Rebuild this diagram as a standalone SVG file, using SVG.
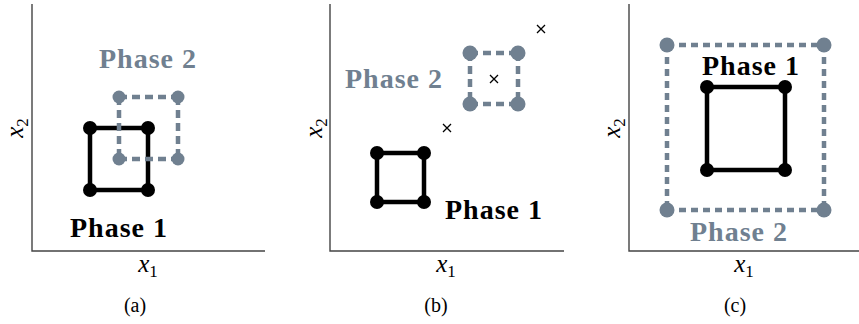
<svg xmlns="http://www.w3.org/2000/svg" width="859" height="324" viewBox="0 0 859 324">
<g id="panel-a">
<path d="M32,4 V251 H265" fill="none" stroke="#444" stroke-width="1.4"/>
<g id="a-phase1">
<rect x="90" y="128" width="58" height="62" fill="none" stroke="#000" stroke-width="4.5"/>
<circle cx="90" cy="128" r="7" fill="#000"/><circle cx="148" cy="128" r="7" fill="#000"/>
<circle cx="90" cy="190" r="7" fill="#000"/><circle cx="148" cy="190" r="7" fill="#000"/>
</g>
<g id="a-phase2">
<path d="M119,97 H178 M119,97 V159 M178,97 V159 M119,159 H178" fill="none" stroke="#708090" stroke-width="4.5" stroke-dasharray="8 5"/>
<circle cx="119" cy="97" r="6.5" fill="#708090"/><circle cx="178" cy="97" r="6.5" fill="#708090"/>
<circle cx="119" cy="159" r="6.5" fill="#708090"/><circle cx="178" cy="159" r="6.5" fill="#708090"/>
</g>
</g>
<g id="panel-b">
<path d="M330,4 V251 H564" fill="none" stroke="#444" stroke-width="1.4"/>
<g id="b-phase1">
<rect x="377" y="153" width="47" height="49" fill="none" stroke="#000" stroke-width="4.5"/>
<circle cx="377" cy="153" r="7" fill="#000"/><circle cx="424" cy="153" r="7" fill="#000"/>
<circle cx="377" cy="202" r="7" fill="#000"/><circle cx="424" cy="202" r="7" fill="#000"/>
</g>
<g id="b-phase2">
<path d="M470,53 H518 M470,53 V104 M518,53 V104 M470,104 H518" fill="none" stroke="#708090" stroke-width="4.5" stroke-dasharray="8 5"/>
<circle cx="470" cy="53" r="7.5" fill="#708090"/><circle cx="518" cy="53" r="7.5" fill="#708090"/>
<circle cx="470" cy="104" r="7.5" fill="#708090"/><circle cx="518" cy="104" r="7.5" fill="#708090"/>
</g>
<g id="b-crosses" stroke="#000" stroke-width="1.3">
<path d="M537,25 l8,8 M545,25 l-8,8"/>
<path d="M490,75 l8,8 M498,75 l-8,8"/>
<path d="M443,124 l8,8 M451,124 l-8,8"/>
</g>
</g>
<g id="panel-c">
<path d="M629,4 V251 H859" fill="none" stroke="#444" stroke-width="1.4"/>
<g id="c-phase2">
<path d="M667,45 H824 M667,45 V210 M824,45 V210 M667,210 H824" fill="none" stroke="#708090" stroke-width="4.5" stroke-dasharray="7 5"/>
<circle cx="667" cy="45" r="7.5" fill="#708090"/><circle cx="824" cy="45" r="7.5" fill="#708090"/>
<circle cx="667" cy="210" r="7.5" fill="#708090"/><circle cx="824" cy="210" r="7.5" fill="#708090"/>
</g>
<g id="c-phase1">
<rect x="707" y="87" width="78" height="83" fill="none" stroke="#000" stroke-width="4.5"/>
<circle cx="707" cy="87" r="7" fill="#000"/><circle cx="785" cy="87" r="7" fill="#000"/>
<circle cx="707" cy="170" r="7" fill="#000"/><circle cx="785" cy="170" r="7" fill="#000"/>
</g>
</g>
<text font-family="Liberation Serif" font-weight="bold" font-size="28" fill="#708090" x="148" y="68" text-anchor="middle" letter-spacing="1">Phase 2</text>
<text font-family="Liberation Serif" font-weight="bold" font-size="28" fill="#000" x="119" y="237" text-anchor="middle" letter-spacing="1">Phase 1</text>
<text font-family="Liberation Serif" font-style="italic" font-size="25" fill="#000" x="-128" y="23" text-anchor="middle" transform="rotate(-90)">x<tspan font-style="normal" font-size="17" dy="5">2</tspan></text>
<text font-family="Liberation Serif" font-style="italic" font-size="25" fill="#000" x="148" y="272" text-anchor="middle">x<tspan font-style="normal" font-size="17" dy="5">1</tspan></text>
<text font-family="Liberation Serif" font-size="20" fill="#000" x="135" y="312" text-anchor="middle">(a)</text>
<text font-family="Liberation Serif" font-weight="bold" font-size="28" fill="#708090" x="394" y="88" text-anchor="middle" letter-spacing="1">Phase 2</text>
<text font-family="Liberation Serif" font-weight="bold" font-size="28" fill="#000" x="494" y="219" text-anchor="middle" letter-spacing="1">Phase 1</text>
<text font-family="Liberation Serif" font-style="italic" font-size="25" fill="#000" x="-128" y="322" text-anchor="middle" transform="rotate(-90)">x<tspan font-style="normal" font-size="17" dy="5">2</tspan></text>
<text font-family="Liberation Serif" font-style="italic" font-size="25" fill="#000" x="446" y="272" text-anchor="middle">x<tspan font-style="normal" font-size="17" dy="5">1</tspan></text>
<text font-family="Liberation Serif" font-size="20" fill="#000" x="436" y="312" text-anchor="middle">(b)</text>
<text font-family="Liberation Serif" font-weight="bold" font-size="28" fill="#000" x="751" y="75" text-anchor="middle" letter-spacing="1">Phase 1</text>
<text font-family="Liberation Serif" font-weight="bold" font-size="28" fill="#708090" x="739" y="241" text-anchor="middle" letter-spacing="1">Phase 2</text>
<text font-family="Liberation Serif" font-style="italic" font-size="25" fill="#000" x="-128" y="620" text-anchor="middle" transform="rotate(-90)">x<tspan font-style="normal" font-size="17" dy="5">2</tspan></text>
<text font-family="Liberation Serif" font-style="italic" font-size="25" fill="#000" x="744" y="272" text-anchor="middle">x<tspan font-style="normal" font-size="17" dy="5">1</tspan></text>
<text font-family="Liberation Serif" font-size="20" fill="#000" x="735" y="312" text-anchor="middle">(c)</text>
</svg>
